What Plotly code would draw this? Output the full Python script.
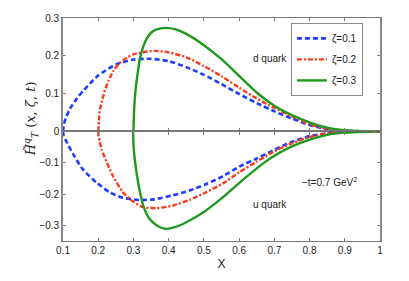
import plotly.graph_objects as go

# ---- data ----
x_b_top = [0.1, 0.103, 0.11, 0.12, 0.14, 0.16, 0.2, 0.25, 0.3, 0.35, 0.4, 0.45, 0.5, 0.55, 0.6, 0.65, 0.7, 0.75, 0.8, 0.85, 0.9, 0.95, 1.0]
y_b_top = [0, 0.02, 0.04, 0.06, 0.088, 0.11, 0.148, 0.177, 0.19, 0.192, 0.186, 0.17, 0.15, 0.125, 0.099, 0.075, 0.053, 0.034, 0.017, 0.006, 0.0017, 0.0003, 0]

x_r_top = [0.2, 0.202, 0.205, 0.212, 0.219, 0.23, 0.243, 0.26, 0.281, 0.3, 0.33, 0.36, 0.4, 0.45, 0.5, 0.55, 0.6, 0.65, 0.7, 0.75, 0.8, 0.85, 0.9, 0.95, 1.0]
y_r_top = [0, 0.03, 0.059, 0.085, 0.109, 0.135, 0.16, 0.18, 0.195, 0.204, 0.21, 0.213, 0.209, 0.196, 0.173, 0.146, 0.116, 0.087, 0.062, 0.04, 0.019, 0.007, 0.002, 0.0004, 0]

x_g_top = [0.3, 0.301, 0.302, 0.305, 0.31, 0.319, 0.328, 0.338, 0.35, 0.366, 0.39, 0.42, 0.45, 0.5, 0.55, 0.6, 0.65, 0.7, 0.75, 0.8, 0.85, 0.9, 0.95, 1.0]
y_g_top = [0, 0.03, 0.059, 0.1, 0.14, 0.195, 0.225, 0.246, 0.261, 0.27, 0.274, 0.27, 0.258, 0.228, 0.191, 0.147, 0.103, 0.068, 0.043, 0.024, 0.01, 0.003, 0.0006, 0]

x_b_bot = [0.1, 0.102, 0.109, 0.128, 0.157, 0.195, 0.232, 0.27, 0.318, 0.36, 0.412, 0.459, 0.507, 0.554, 0.601, 0.649, 0.696, 0.743, 0.8, 0.857, 0.9, 0.95, 1.0]
y_b_bot = [0, -0.015, -0.031, -0.071, -0.122, -0.163, -0.194, -0.212, -0.219, -0.217, -0.204, -0.189, -0.168, -0.143, -0.112, -0.087, -0.061, -0.036, -0.015, -0.005, -0.0015, -0.0003, 0]

x_r_bot = [0.2, 0.201, 0.204, 0.21, 0.218, 0.242, 0.27, 0.299, 0.327, 0.365, 0.412, 0.459, 0.507, 0.554, 0.601, 0.649, 0.696, 0.743, 0.8, 0.857, 0.9, 0.95, 1.0]
y_r_bot = [0, -0.015, -0.031, -0.058, -0.082, -0.143, -0.194, -0.224, -0.242, -0.245, -0.237, -0.219, -0.194, -0.166, -0.13, -0.097, -0.066, -0.041, -0.018, -0.005, -0.0015, -0.0003, 0]

x_g_bot = [0.299, 0.3, 0.302, 0.305, 0.31, 0.318, 0.328, 0.346, 0.37, 0.39, 0.42, 0.45, 0.5, 0.55, 0.6, 0.65, 0.7, 0.75, 0.8, 0.85, 0.9, 0.95, 1.0]
y_g_bot = [0, -0.041, -0.07, -0.1, -0.14, -0.19, -0.238, -0.28, -0.303, -0.311, -0.305, -0.29, -0.257, -0.214, -0.165, -0.118, -0.078, -0.048, -0.026, -0.011, -0.004, -0.001, 0]

legend_names = ["ζ=0.1", "ζ=0.2", "ζ=0.3"]
x_ticks = [0.1, 0.2, 0.3, 0.4, 0.5, 0.6, 0.7, 0.8, 0.9, 1.0]
x_tick_text = ["0.1", "0.2", "0.3", "0.4", "0.5", "0.6", "0.7", "0.8", "0.9", "1"]
y_ticks_top = [0, 0.1, 0.2, 0.3]
y_ticks_bot = [-0.3, -0.2, -0.1]

BLUE = "#1f3dff"
RED = "#ff3a1a"
GREEN = "#1e9a1e"
FONT = "Liberation Sans, Arial, sans-serif"

fig = go.Figure()
styles = [
    dict(color=BLUE, width=2.6, dash="5px,3px"),
    dict(color=RED, width=2.4, dash="5px,2px,2px,2px"),
    dict(color=GREEN, width=2.4),
]
tops = [(x_b_top, y_b_top), (x_r_top, y_r_top), (x_g_top, y_g_top)]
bots = [(x_b_bot, y_b_bot), (x_r_bot, y_r_bot), (x_g_bot, y_g_bot)]
for i in range(3):
    fig.add_trace(go.Scatter(x=tops[i][0], y=tops[i][1], mode="lines", name=legend_names[i],
                             line=dict(**styles[i], shape="spline", smoothing=0.6),
                             legendgroup=str(i), xaxis="x", yaxis="y"))
    fig.add_trace(go.Scatter(x=bots[i][0], y=bots[i][1], mode="lines", name=legend_names[i],
                             line=dict(**styles[i], shape="spline", smoothing=0.6),
                             legendgroup=str(i), showlegend=False, xaxis="x2", yaxis="y2"))

split = (247 - 133) / 232.0
common_x = dict(range=[0.1, 1.0], tickvals=x_ticks, ticktext=x_tick_text, showgrid=False,
                zeroline=False, showline=True, linecolor="#777", linewidth=1.3, mirror="ticks",
                ticks="inside", ticklen=3, tickcolor="#777")
common_y = dict(showgrid=False, zeroline=False, showline=True, linecolor="#888", linewidth=1.6,
                mirror="ticks", ticks="inside", ticklen=3, tickcolor="#888",
                tickfont=dict(size=10, color="#222"))

fig.update_layout(
    width=409, height=281,
    margin=dict(l=63, r=29, t=15, b=34),
    paper_bgcolor="white", plot_bgcolor="white",
    font=dict(family=FONT, size=10, color="#222"),
    xaxis=dict(**common_x, anchor="y", showticklabels=False, domain=[0, 1]),
    yaxis=dict(**common_y, range=[0, 0.3], tickvals=y_ticks_top, ticktext=["0", "0.1", "0.2", "0.3"],
               domain=[split, 1], anchor="x"),
    xaxis2=dict(**common_x, anchor="y2", showticklabels=True, domain=[0, 1],
                tickfont=dict(size=10, color="#222"),
                title=dict(text="X", font=dict(size=12, color="#222"), standoff=4)),
    yaxis2=dict(**common_y, range=[-0.35, 0], tickvals=y_ticks_bot, ticktext=["−0.3", "−0.2", "−0.1"],
                domain=[0, split], anchor="x2"),
    legend=dict(x=0.719, y=0.978, xanchor="left", yanchor="top", bgcolor="white",
                bordercolor="#888", borderwidth=1, font=dict(size=10, color="#222"),
                tracegroupgap=2, itemwidth=30),
    showlegend=True,
)

fig.add_annotation(text="<i>H̃</i><sup><i>q</i></sup><sub><i>T</i></sub> (<i>x</i>, <i>ζ</i>, <i>t</i>)",
                   xref="paper", yref="paper", x=-0.136, y=0.55, textangle=-90,
                   showarrow=False, font=dict(size=13, color="#222", family="DejaVu Serif, serif"))
fig.add_annotation(text="d quark", xref="x", yref="y", x=0.688, y=0.193, showarrow=False,
                   font=dict(size=10, color="#222"))
fig.add_annotation(text="u quark", xref="x2", yref="y2", x=0.688, y=-0.232, showarrow=False,
                   font=dict(size=10, color="#222"))
fig.add_annotation(text="−t=0.7 GeV<sup>2</sup>", xref="x2", yref="y2", x=0.858, y=-0.163,
                   showarrow=False, font=dict(size=10, color="#222"))

fig.write_html("out.html", config={"displayModeBar": False},
               post_script="document.body.style.margin='0';document.body.style.overflow='hidden';")
